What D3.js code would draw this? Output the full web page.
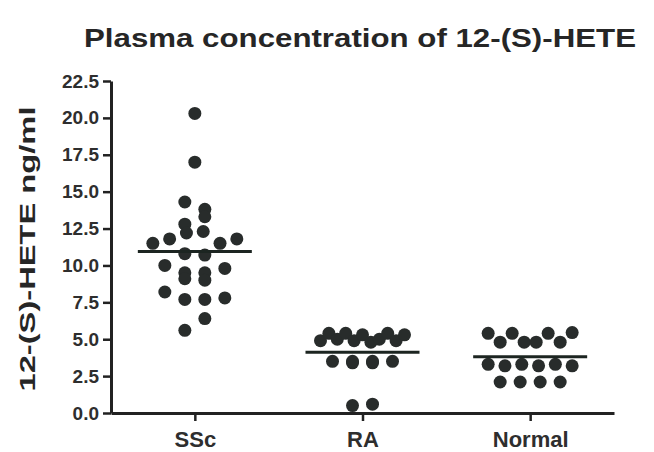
<!DOCTYPE html>
<html>
<head>
<meta charset="utf-8">
<script src="https://cdn.jsdelivr.net/npm/d3@7"></script>
<style>
  body { margin: 0; background: #fff; }
  svg { display: block; font-family: "Liberation Sans", Arial, sans-serif; }
</style>
</head>
<body>
<div id="chart"></div>
<script>
// values, per group
const groups = ['SSc', 'RA', 'Normal'];
const sscValues = [20.3, 17.0, 14.3, 13.8, 12.8, 13.3, 11.5, 11.8, 12.2, 12.3, 11.5, 11.8,
  10.8, 10.7, 10.0, 9.5, 9.5, 9.8, 9.1, 9.0, 8.2, 7.7, 7.7, 7.8, 5.6, 6.4];
const raValues = [4.9, 5.4, 5.0, 5.4, 4.9, 5.3, 4.8, 5.0, 5.4, 4.9, 5.3,
  3.5, 3.4, 3.5, 3.4, 3.5, 3.5, 0.5, 0.6];
const normalValues = [5.4, 4.8, 5.4, 4.8, 4.8, 5.4, 4.8, 5.45,
  3.3, 3.2, 3.3, 3.2, 3.3, 3.2, 2.1, 2.1, 2.1, 2.1];
const yTicks = [0, 2.5, 5, 7.5, 10, 12.5, 15, 17.5, 20, 22.5];

const title = 'Plasma concentration of 12-(S)-HETE';
const yLabel = '12-(S)-HETE ng/ml';

const width = 654;
const height = 452;
const margin = { top: 81, right: 40, bottom: 39, left: 111 };
const dotR = 6.5;
const laneStep = 20;
const maxSpread = 84;

const data = [sscValues, raValues, normalValues];

const svg = d3.select('#chart').append('svg')
  .attr('width', width)
  .attr('height', height);

const x = d3.scalePoint()
  .domain(groups)
  .range([margin.left, width - margin.right])
  .padding(0.5);

const y = d3.scaleLinear()
  .domain([0, 22.5])
  .range([height - margin.bottom, margin.top]);

// spread points sitting in the same row side by side, like a column scatter
function spread(values) {
  const rows = d3.group(values.map((v, i) => ({ v, i })), d => Math.round(d.v));
  const offsets = new Array(values.length).fill(0);
  rows.forEach(items => {
    const n = items.length;
    const step = n > 1 ? Math.min(laneStep, maxSpread / (n - 1)) : 0;
    items.forEach((d, k) => { offsets[d.i] = (k - (n - 1) / 2) * step; });
  });
  return offsets;
}

// title
svg.append('text')
  .attr('x', 360)
  .attr('y', 47)
  .attr('text-anchor', 'middle')
  .attr('font-size', 26)
  .attr('font-weight', 'bold')
  .attr('fill', '#262626')
  .attr('textLength', 552)
  .attr('lengthAdjust', 'spacingAndGlyphs')
  .text(title);

// y axis
const yAxis = svg.append('g')
  .attr('transform', `translate(${margin.left},0)`)
  .call(d3.axisLeft(y).tickValues(yTicks).tickFormat(d3.format('.1f')).tickSize(8).tickSizeOuter(0).tickPadding(4));

// x axis
const xAxis = svg.append('g')
  .attr('transform', `translate(0,${height - margin.bottom})`)
  .call(d3.axisBottom(x).tickSize(8).tickSizeOuter(0).tickPadding(10));

[yAxis, xAxis].forEach(g => {
  g.select('.domain').attr('stroke', '#222').attr('stroke-width', 3);
  g.selectAll('.tick line').attr('stroke', '#222').attr('stroke-width', 2.5);
  g.selectAll('.tick text')
    .attr('fill', '#2e2e2e')
    .attr('font-weight', 'bold')
    .attr('font-family', '"Liberation Sans", Arial, sans-serif');
});
yAxis.selectAll('.tick text').attr('font-size', 19);
xAxis.selectAll('.tick text').attr('font-size', 22);

// y axis label
svg.append('text')
  .attr('transform', `translate(35,${(y(0) + y(22.5)) / 2 + 2}) rotate(-90)`)
  .attr('text-anchor', 'middle')
  .attr('font-size', 22)
  .attr('font-weight', 'bold')
  .attr('fill', '#262626')
  .attr('textLength', 285)
  .attr('lengthAdjust', 'spacingAndGlyphs')
  .text(yLabel);

// points
groups.forEach((g, gi) => {
  const values = data[gi];
  const offsets = spread(values);
  svg.append('g')
    .selectAll('circle')
    .data(values)
    .enter().append('circle')
      .attr('cx', (d, i) => x(g) + offsets[i])
      .attr('cy', d => y(d))
      .attr('r', dotR)
      .attr('fill', '#282c2b');

  // mean line
  const m = d3.mean(values);
  svg.append('line')
    .attr('x1', x(g) - 57)
    .attr('x2', x(g) + 57)
    .attr('y1', y(m))
    .attr('y2', y(m))
    .attr('stroke', '#1c2521')
    .attr('stroke-width', 3);
});
</script>
</body>
</html>
